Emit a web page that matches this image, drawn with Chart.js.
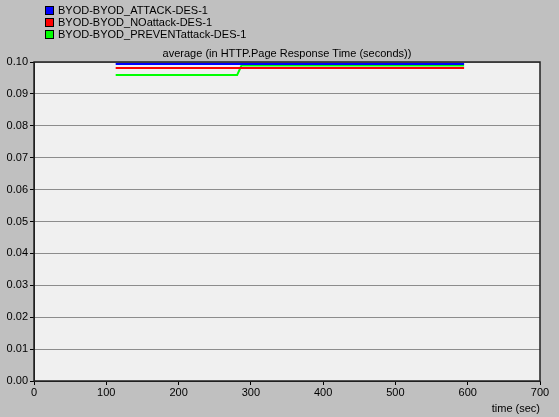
<!DOCTYPE html>
<html>
<head>
<meta charset="utf-8">
<script src="https://cdn.jsdelivr.net/npm/chart.js@4/dist/chart.umd.min.js"></script>
<style>
  html, body { margin: 0; padding: 0; background: #c0c0c0; }
  #wrap { position: relative; width: 559px; height: 417px; }
  #legend { position: absolute; left: 45px; top: 4px; font: 11px "Liberation Sans", Arial, sans-serif; color: #000; }
  #legend div { height: 12px; line-height: 12px; margin-bottom: 0px; white-space: nowrap; }
  #legend span { display: inline-block; width: 7px; height: 7px; border: 1px solid #000; margin-right: 4px; vertical-align: -1px; }
</style>
</head>
<body>
<div id="wrap">
  <canvas id="c" width="559" height="417"></canvas>
  <div id="legend"></div>
</div>
<script>
// series names and colours
const seriesNames = ["BYOD-BYOD_ATTACK-DES-1", "BYOD-BYOD_NOattack-DES-1", "BYOD-BYOD_PREVENTattack-DES-1"];
const seriesColors = ["#0000ff", "#ff0000", "#00ff00"];

// time (sec) and average page response time (seconds)
const attackTime = [113, 595];
const attackValues = [0.0994, 0.0994];
const noAttackTime = [113, 595];
const noAttackValues = [0.0981, 0.0981];
const preventTime = [113, 281, 287, 595];
const preventValues = [0.0959, 0.0959, 0.0989, 0.0989];

const yTicks = [0, 0.01, 0.02, 0.03, 0.04, 0.05, 0.06, 0.07, 0.08, 0.09, 0.10];
const xTicks = [0, 100, 200, 300, 400, 500, 600, 700];

const chartTitle = "average (in HTTP.Page Response Time (seconds))";
const xTitle = "time (sec)";

function pts(xs, ys) {
    return xs.map((x, i) => ({ x: x, y: ys[i] }));
}

// legend as html, stacked like the original
const legend = document.getElementById("legend");
seriesNames.forEach((name, i) => {
    const row = document.createElement("div");
    row.innerHTML = '<span style="background:' + seriesColors[i] + '"></span>' + name;
    legend.appendChild(row);
});

// plot area background, frame and title
const framePlugin = {
    id: "frame",
    beforeDraw(chart) {
        const a = chart.chartArea, ctx = chart.ctx;
        ctx.save();
        ctx.fillStyle = "#f0f0f0";
        ctx.fillRect(a.left, a.top, a.right - a.left, a.bottom - a.top);
        ctx.restore();
    },
    afterDraw(chart) {
        const a = chart.chartArea, ctx = chart.ctx;
        ctx.save();
        ctx.strokeStyle = "#202020";
        ctx.lineWidth = 1.5;
        ctx.strokeRect(a.left, a.top, a.right - a.left, a.bottom - a.top);
        ctx.fillStyle = "#000";
        ctx.font = '11px "Liberation Sans", Arial, sans-serif';
        ctx.textAlign = "center";
        ctx.textBaseline = "bottom";
        ctx.fillText(chartTitle, (a.left + a.right) / 2, a.top - 3);
        ctx.restore();
    }
};

const font = { family: '"Liberation Sans", Arial, sans-serif', size: 11 };

new Chart(document.getElementById("c"), {
    type: "line",
    data: {
        datasets: [
            { label: seriesNames[0], data: pts(attackTime, attackValues), borderColor: seriesColors[0] },
            { label: seriesNames[1], data: pts(noAttackTime, noAttackValues), borderColor: seriesColors[1] },
            { label: seriesNames[2], data: pts(preventTime, preventValues), borderColor: seriesColors[2] }
        ].map(d => Object.assign(d, { borderWidth: 2, pointRadius: 0, tension: 0, fill: false }))
    },
    options: {
        responsive: false,
        animation: false,
        layout: { padding: { top: 62, right: 19, left: 0, bottom: 0 } },
        plugins: { legend: { display: false }, tooltip: { enabled: false } },
        scales: {
            x: {
                type: "linear",
                min: 0, max: 700,
                afterBuildTicks: s => { s.ticks = xTicks.map(v => ({ value: v })); },
                ticks: { color: "#000", font: font, padding: 1, maxRotation: 0 },
                grid: { drawOnChartArea: false, color: "#000", tickLength: 4 },
                border: { color: "#202020" },
                title: { display: true, text: xTitle, align: "end", color: "#000", font: font, padding: { top: 2, bottom: 1 } },
                afterFit: s => { s.height = 36; }
            },
            y: {
                min: 0, max: 0.1,
                afterBuildTicks: s => { s.ticks = yTicks.map(v => ({ value: v })); },
                ticks: { color: "#000", font: font, padding: 2, callback: v => v.toFixed(2) },
                grid: { color: "#8c8c8c", tickLength: 4, tickColor: "#000" },
                border: { color: "#202020" },
                afterFit: s => { s.width = 34; }
            }
        }
    },
    plugins: [framePlugin]
});
</script>
</body>
</html>
